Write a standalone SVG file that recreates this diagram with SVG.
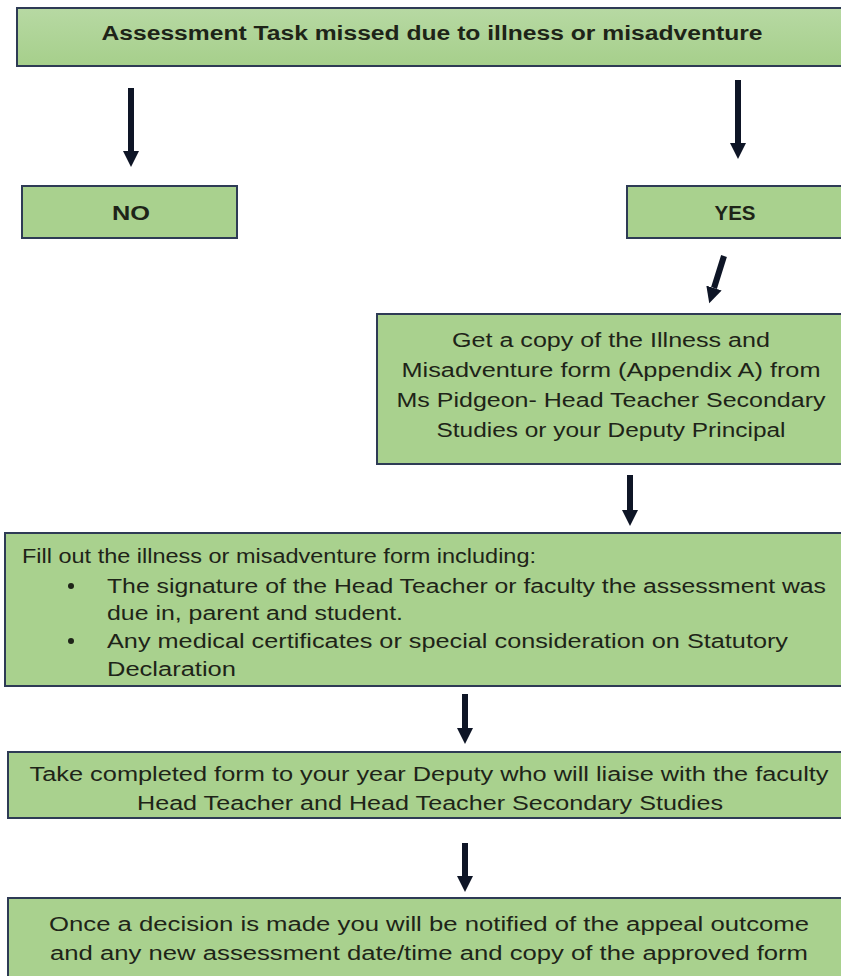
<svg xmlns="http://www.w3.org/2000/svg" width="841" height="976" viewBox="0 0 841 976">
<defs>
<linearGradient id="g" x1="0" y1="0" x2="0" y2="1"><stop offset="0" stop-color="#b7d9a3"/><stop offset="1" stop-color="#a6cf8b"/></linearGradient>
<marker id="ah" markerUnits="userSpaceOnUse" markerWidth="20" markerHeight="16" refX="0" refY="8" orient="auto"><path d="M0,0 L16,8 L0,16 Z" fill="#0e1526"/></marker>
<style>
.box{fill:#a9d18e;stroke:#2e3b55;stroke-width:2}
.t{font-family:"Liberation Sans",Arial,sans-serif;font-size:20px;fill:#1e2418}
.b{font-weight:bold}
.c{stroke:#0e1526;stroke-width:6;fill:none;marker-end:url(#ah)}
</style>
</defs>
<rect width="841" height="976" fill="#ffffff"/>
<g id="connectors">
<line class="c" x1="131" y1="88" x2="131" y2="151"/>
<line class="c" x1="738" y1="80" x2="738" y2="143"/>
<line class="c" x1="724" y1="256" x2="714" y2="288"/>
<line class="c" x1="630" y1="475" x2="630" y2="510"/>
<line class="c" x1="465" y1="694" x2="465" y2="728"/>
<line class="c" x1="465" y1="843" x2="465" y2="876"/>
</g>
<g id="n-title">
<rect x="17" y="8" width="830" height="58" fill="url(#g)" stroke="#2e3b55" stroke-width="2"/>
<text class="t b" x="432" y="40" text-anchor="middle" textLength="661" lengthAdjust="spacingAndGlyphs">Assessment Task missed due to illness or misadventure</text>
</g>
<g id="n-no">
<rect class="box" x="22" y="186" width="215" height="52"/>
<text class="t b" x="131" y="220" text-anchor="middle" textLength="38" lengthAdjust="spacingAndGlyphs">NO</text>
</g>
<g id="n-yes">
<rect class="box" x="627" y="186" width="220" height="52"/>
<text class="t b" x="735" y="220" text-anchor="middle" textLength="41" lengthAdjust="spacingAndGlyphs">YES</text>
</g>
<g id="n-copy">
<rect class="box" x="377" y="314" width="470" height="150"/>
<text class="t" x="611" y="347" text-anchor="middle" textLength="318" lengthAdjust="spacingAndGlyphs">Get a copy of the Illness and</text>
<text class="t" x="611" y="377" text-anchor="middle" textLength="419" lengthAdjust="spacingAndGlyphs">Misadventure form (Appendix A) from</text>
<text class="t" x="611" y="407" text-anchor="middle" textLength="429" lengthAdjust="spacingAndGlyphs">Ms Pidgeon- Head Teacher Secondary</text>
<text class="t" x="611" y="437" text-anchor="middle" textLength="349" lengthAdjust="spacingAndGlyphs">Studies or your Deputy Principal</text>
</g>
<g id="n-fill">
<rect class="box" x="5" y="533" width="842" height="153"/>
<text class="t" x="22" y="563" textLength="514" lengthAdjust="spacingAndGlyphs">Fill out the illness or misadventure form including:</text>
<circle cx="71" cy="586" r="3" fill="#1e2418"/>
<text class="t" x="107" y="593" textLength="719" lengthAdjust="spacingAndGlyphs">The signature of the Head Teacher or faculty the assessment was</text>
<text class="t" x="107" y="620" textLength="296" lengthAdjust="spacingAndGlyphs">due in, parent and student.</text>
<circle cx="71" cy="641" r="3" fill="#1e2418"/>
<text class="t" x="107" y="648" textLength="681" lengthAdjust="spacingAndGlyphs">Any medical certificates or special consideration on Statutory</text>
<text class="t" x="107" y="676" textLength="129" lengthAdjust="spacingAndGlyphs">Declaration</text>
</g>
<g id="n-take">
<rect class="box" x="8" y="752" width="839" height="66"/>
<text class="t" x="429" y="781" text-anchor="middle" textLength="799" lengthAdjust="spacingAndGlyphs">Take completed form to your year Deputy who will liaise with the faculty</text>
<text class="t" x="430" y="810" text-anchor="middle" textLength="586" lengthAdjust="spacingAndGlyphs">Head Teacher and Head Teacher Secondary Studies</text>
</g>
<g id="n-once">
<rect class="box" x="8" y="898" width="839" height="90"/>
<text class="t" x="429" y="931" text-anchor="middle" textLength="760" lengthAdjust="spacingAndGlyphs">Once a decision is made you will be notified of the appeal outcome</text>
<text class="t" x="429" y="960" text-anchor="middle" textLength="758" lengthAdjust="spacingAndGlyphs">and any new assessment date/time and copy of the approved form</text>
</g>
</svg>
